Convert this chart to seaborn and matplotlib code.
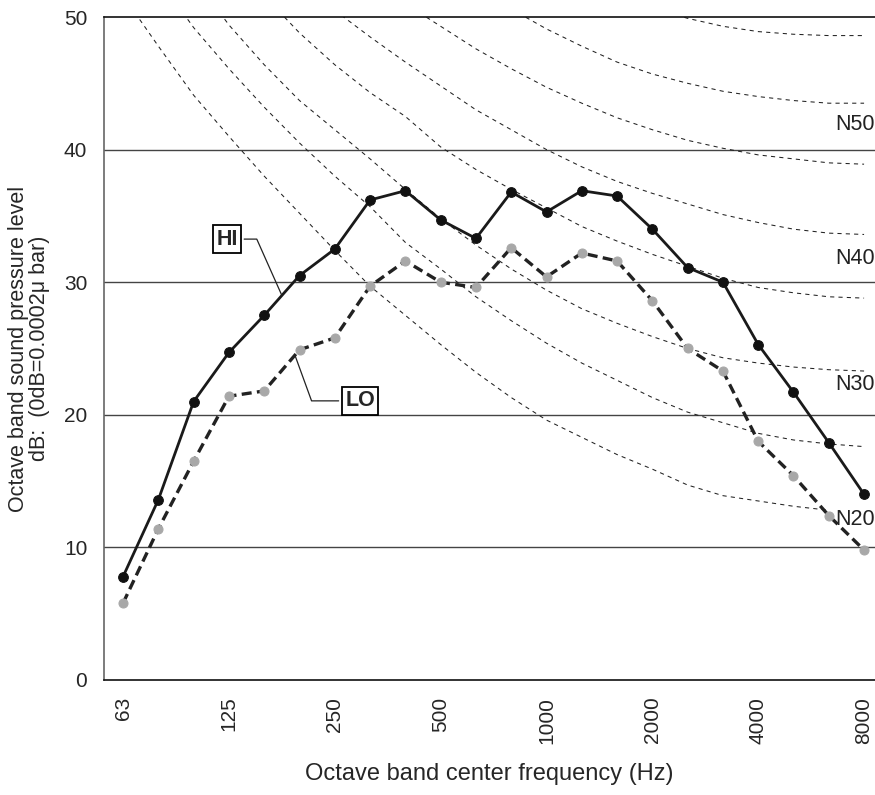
import numpy as np
import pandas as pd
import matplotlib
matplotlib.use("Agg")
import matplotlib.pyplot as plt
import seaborn as sns

nan = np.nan

# 1/3 octave band centres (Hz)
freq_labels = ["63", "80", "100", "125", "160", "200", "250", "315", "400", "500", "630",
               "800", "1000", "1250", "1600", "2000", "2500", "3150", "4000", "5000", "6300", "8000"]
tick_labels = ["63", "125", "250", "500", "1000", "2000", "4000", "8000"]

# measured levels (dB)
hi_levels = [7.8, 13.6, 21.0, 24.7, 27.5, 30.5, 32.5, 36.2, 36.9, 34.7, 33.3,
             36.8, 35.3, 36.9, 36.5, 34.0, 31.1, 30.0, 25.3, 21.7, 17.9, 14.0]
lo_levels = [5.8, 11.4, 16.5, 21.4, 21.8, 24.9, 25.8, 29.7, 31.6, 30.0, 29.6,
             32.6, 30.4, 32.2, 31.6, 28.6, 25.0, 23.3, 18.0, 15.4, 12.4, 9.8]

# N-curves
n20_curve = [51.6, 47.8, 44.1, 41.0, 38.0, 35.2, 32.4, 29.7, 27.5, 25.3, 23.2,
             21.3, 19.6, 18.3, 17.0, 15.9, 14.7, 13.9, 13.5, 13.1, 12.8, nan]
n25_curve = [nan, 52.9, 49.2, 46.1, 43.2, 40.5, 38.0, 35.7, 33.0, 31.0, 28.9,
             27.1, 25.4, 23.9, 22.6, 21.3, 20.2, 19.4, 18.6, 18.1, 17.8, 17.6]
n30_curve = [nan, nan, 53.0, 49.4, 46.4, 43.7, 41.5, 39.3, 37.0, 34.8, 32.8,
             31.0, 29.4, 28.0, 26.9, 25.9, 25.0, 24.3, 23.9, 23.6, 23.4, 23.3]
n35_curve = [nan, nan, nan, nan, 51.6, 48.8, 46.4, 44.3, 42.5, 40.2, 38.5,
             37.0, 35.6, 34.2, 33.1, 32.1, 31.2, 30.3, 29.6, 29.2, 28.9, 28.8]
n40_curve = [nan, nan, nan, nan, nan, nan, 50.5, 48.5, 46.6, 44.8, 43.0,
             41.5, 40.0, 38.7, 37.6, 36.7, 35.9, 35.1, 34.5, 34.0, 33.7, 33.6]
n45_curve = [nan, nan, nan, nan, nan, nan, nan, nan, 51.0, 49.3, 47.6,
             46.1, 44.7, 43.5, 42.4, 41.5, 40.7, 40.1, 39.6, 39.3, 39.0, 38.9]
n50_curve = [nan, nan, nan, nan, nan, nan, nan, nan, nan, nan, nan,
             50.6, 49.1, 47.8, 46.6, 45.7, 45.0, 44.4, 44.0, 43.7, 43.5, 43.5]
n55_curve = [nan, nan, nan, nan, nan, nan, nan, nan, nan, nan, nan,
             nan, nan, nan, nan, 50.7, 49.9, 49.3, 48.9, 48.7, 48.6, 48.6]
n_curves = [n20_curve, n25_curve, n30_curve, n35_curve, n40_curve, n45_curve, n50_curve, n55_curve]

n_labels = ["N20", "N30", "N40", "N50"]
n_label_levels = [12.1, 22.3, 31.8, 41.9]

sns.set_style("white")
plt.rcParams["font.family"] = ["Liberation Sans", "DejaVu Sans"]

pos = np.arange(len(freq_labels))
df = pd.DataFrame({"pos": pos, "freq": freq_labels, "HI": hi_levels, "LO": lo_levels})

fig = plt.figure(figsize=(8.75, 7.95), dpi=100)
ax = fig.add_axes([0.1189, 0.1447, 0.8811, 0.8339])

# horizontal grid
for yv in [10, 20, 30, 40]:
    ax.axhline(yv, color="#444444", lw=1.0, zorder=1)

# N-curves
for curve in n_curves:
    sns.lineplot(x=pos, y=curve, ax=ax, color="#222222", lw=0.75,
                 linestyle=(0, (4, 4)), zorder=2)

for lab, lv in zip(n_labels, n_label_levels):
    ax.text(21.3, lv, lab, ha="right", va="center", fontsize=15.5, color="#222222", zorder=3)

# measured spectra
sns.lineplot(data=df, x="pos", y="LO", ax=ax, color="#222222", lw=2.4,
             linestyle=(0, (3, 1.6)), marker="o", markersize=6.5,
             markerfacecolor="#a8a8a8", markeredgecolor="#a8a8a8", zorder=4)
sns.lineplot(data=df, x="pos", y="HI", ax=ax, color="#1a1a1a", lw=2.0,
             marker="o", markersize=7, markerfacecolor="#111111",
             markeredgecolor="#111111", zorder=5)

# HI / LO tags with leaders
box = dict(boxstyle="square,pad=0.15", fc="white", ec="black", lw=1.3)
ax.annotate("HI", xy=(4.5, (hi_levels[4] + hi_levels[5]) / 2), xytext=(2.94, 33.25),
            fontsize=15.5, fontweight="bold", ha="center", va="center", bbox=box,
            arrowprops=dict(arrowstyle="-", lw=0.9, color="#222222", shrinkB=0,
                            connectionstyle="angle,angleA=0,angleB=114,rad=0"), zorder=6)
ax.annotate("LO", xy=(4.87, lo_levels[4] + 0.87 * (lo_levels[5] - lo_levels[4])), xytext=(6.72, 21.05),
            fontsize=15.5, fontweight="bold", ha="center", va="center", bbox=box,
            arrowprops=dict(arrowstyle="-", lw=0.9, color="#222222", shrinkB=0,
                            connectionstyle="angle,angleA=0,angleB=110,rad=0"), zorder=6)

ax.set_xlim(-0.54, 21.31)
ax.set_ylim(0, 50)
ax.set_xticks(pos[::3])
ax.set_xticklabels(tick_labels, rotation=90, fontsize=15)
ax.set_yticks([0, 10, 20, 30, 40, 50])
ax.tick_params(axis="y", labelsize=15, direction="inout", length=6, pad=9, color="#555555")
ax.tick_params(axis="x", length=0, pad=12)
ax.set_xlabel("Octave band center frequency (Hz)", fontsize=17, labelpad=14)
ax.set_ylabel("Octave band sound pressure level\ndB:  (0dB=0.0002\u03bc bar)", fontsize=15.5,
              labelpad=10, linespacing=1.0)

for side in ["top", "bottom"]:
    ax.spines[side].set_color("#111111")
    ax.spines[side].set_linewidth(1.2)
ax.spines["left"].set_color("#666666")
ax.spines["left"].set_linewidth(1.2)
ax.spines["right"].set_visible(False)

fig.savefig("out.png", dpi=100)
